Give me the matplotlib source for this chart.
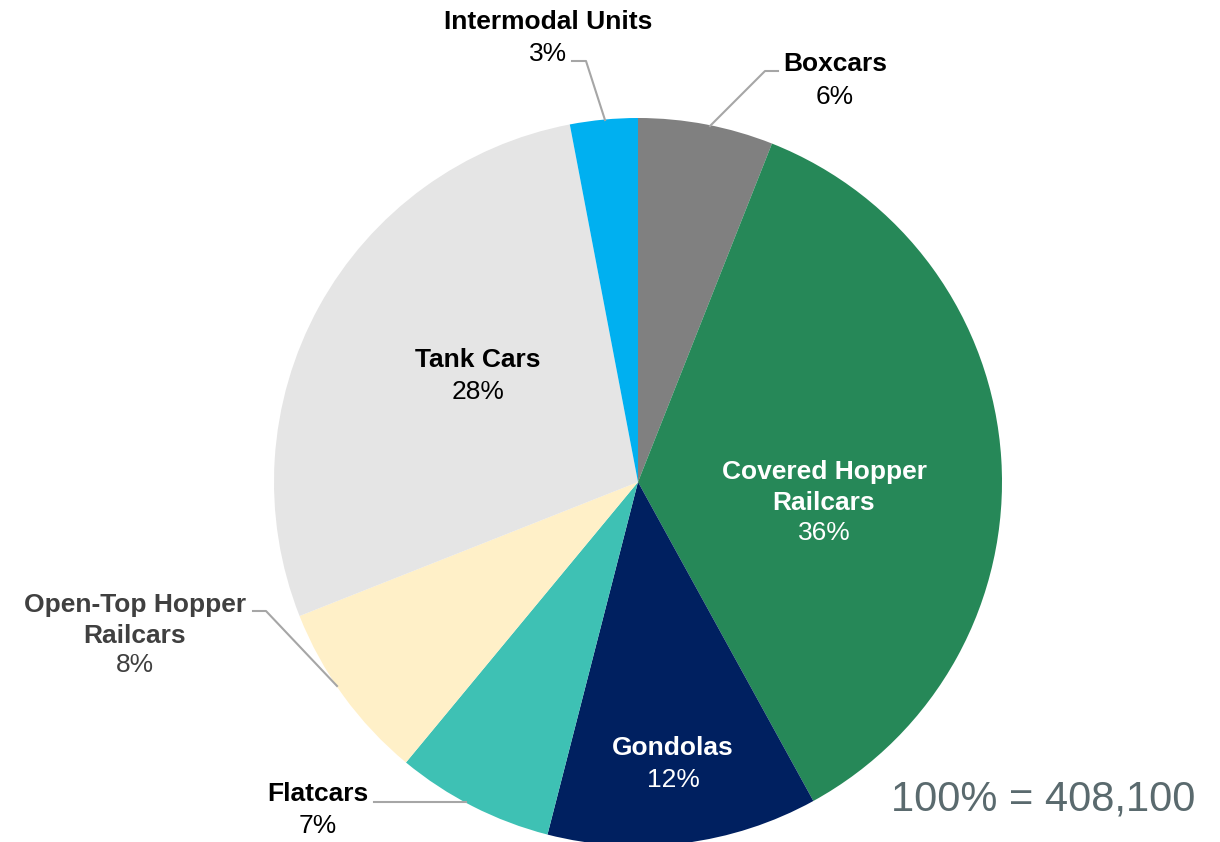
import matplotlib.pyplot as plt

plt.rcParams['font.family'] = ['Liberation Sans', 'DejaVu Sans']

# Railcar fleet mix, clockwise from 12 o'clock
categories = ['Boxcars', 'Covered Hopper\nRailcars', 'Gondolas', 'Flatcars',
              'Open-Top Hopper\nRailcars', 'Tank Cars', 'Intermodal Units']
shares = [6, 36, 12, 7, 8, 28, 3]
colors = ['#808080', '#268858', '#002060', '#3EC1B4', '#FFF0C8', '#E5E5E5', '#00B0F0']
total_label = '100% = 408,100'

W, H = 1220, 842
fig = plt.figure(figsize=(W / 100, H / 100), dpi=100)
ax = fig.add_axes([0, 0, 1, 1])

cx, cy, r = 638, 482, 364
# y axis runs downward, so start at -90 and go "counterclockwise" to get clockwise from the top
wedges, _ = ax.pie(shares, colors=colors, startangle=-90, counterclock=True,
                   center=(cx, cy), radius=r, frame=True,
                   wedgeprops=dict(linewidth=0))
ax.set_xlim(0, W)
ax.set_ylim(H, 0)
ax.set_aspect('equal')
ax.axis('off')

# label placement: (x, y of first name line, y of percent, text colour)
label_pos = {
    'Boxcars': (835, 64, 97, 'black'),
    'Covered Hopper\nRailcars': (824, 472, 533, 'white'),
    'Gondolas': (673, 748, 780, 'white'),
    'Flatcars': (318, 794, 826, 'black'),
    'Open-Top Hopper\nRailcars': (135, 605, 665, '#404040'),
    'Tank Cars': (478, 360, 392, 'black'),
    'Intermodal Units': (548, 22, 54, 'black'),
}
for name, share in zip(categories, shares):
    x, y, py, c = label_pos[name]
    for i, line in enumerate(name.split('\n')):
        ax.text(x, y + 31 * i, line, ha='center', va='center', fontsize=19,
                fontweight='bold', color=c)
    ax.text(x, py, f'{share}%', ha='center', va='center', fontsize=19, color=c)

# leader lines for the small outside labels
leader = dict(color='#A6A6A6', lw=1.5)
ax.plot([572, 586, 605], [61, 61, 120], **leader)
ax.plot([778, 765, 710], [71, 71, 126], **leader)
ax.plot([374, 466], [802, 802], **leader)
ax.plot([253, 266, 337], [611, 611, 686], **leader)

ax.text(1195, 799, total_label, ha='right', va='center', fontsize=30,
        color='#5A6A6E')

fig.savefig('out.png', dpi=100)
